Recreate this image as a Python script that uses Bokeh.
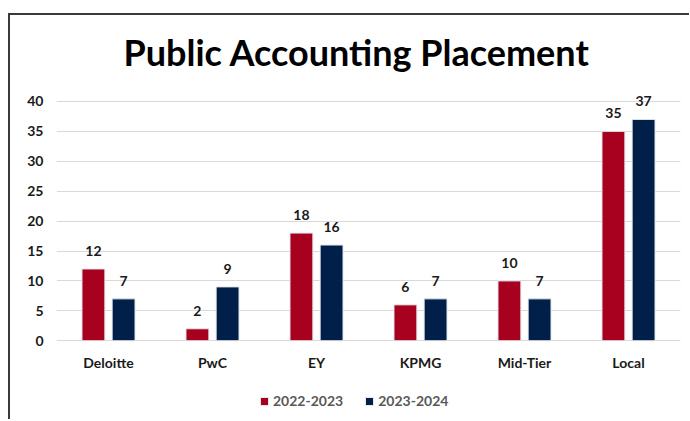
from bokeh.plotting import figure
from bokeh.models import ColumnDataSource, FactorRange, Legend, LegendItem, FixedTicker
from bokeh.transform import dodge
from bokeh.core.properties import value
from bokeh.embed import file_html
from bokeh.resources import INLINE

categories = ["Deloitte", "PwC", "EY", "KPMG", "Mid-Tier", "Local"]
series_names = ["2022-2023", "2023-2024"]
values_2022 = [12, 2, 18, 6, 10, 35]
values_2023 = [7, 9, 16, 7, 7, 37]
y_ticks = [0, 5, 10, 15, 20, 25, 30, 35, 40]

RED = "#A8001F"
NAVY = "#00204A"
FONT = "Lato"

src = ColumnDataSource(dict(cat=categories, a=values_2022, b=values_2023,
                            la=[str(v) for v in values_2022],
                            lb=[str(v) for v in values_2023],
                            zero=[0] * len(categories)))

p = figure(x_range=FactorRange(*categories, range_padding=0), y_range=(-13.5, 42.5),
           width=681, height=406, output_backend="svg", toolbar_location=None,
           x_axis_location=None, title="Public Accounting Placement",
           min_border_left=46, min_border_right=11, min_border_top=71, min_border_bottom=0)
p.styles = {"border-top": "2px solid #3a3a3a", "border-left": "2px solid #3a3a3a",
            "margin-left": "8px", "margin-top": "13px"}

r1 = p.vbar(x=dodge("cat", -0.145, range=p.x_range), top="a", width=0.22, source=src,
            fill_color=RED, line_color="#e6e9ee", line_width=1)
r2 = p.vbar(x=dodge("cat", 0.145, range=p.x_range), top="b", width=0.22, source=src,
            fill_color=NAVY, line_color="#e6e9ee", line_width=1)

p.text(x=dodge("cat", -0.145, range=p.x_range), y="a", text="la", source=src,
       text_align="center", text_baseline="bottom", y_offset=-13,
       text_font=value(FONT), text_font_style="bold", text_font_size="14px", text_color="#1a1a1a")
p.text(x=dodge("cat", 0.145, range=p.x_range), y="b", text="lb", source=src,
       text_align="center", text_baseline="bottom", y_offset=-13,
       text_font=value(FONT), text_font_style="bold", text_font_size="14px", text_color="#1a1a1a")

# category labels under the bars
p.text(x="cat", y="zero", text="cat", source=src,
       text_align="center", text_baseline="middle", y_offset=22,
       text_font=value(FONT), text_font_style="bold", text_font_size="14px", text_color="#1a1a1a")

p.title.align = "left"
p.title.offset = 67
p.title.standoff = 25
p.title.text_font = FONT
p.title.text_font_style = "bold"
p.title.text_font_size = "36px"
p.title.text_color = "#000000"

p.outline_line_color = None
p.xgrid.grid_line_color = None
p.ygrid.grid_line_color = "#d9d9d9"
p.ygrid.grid_line_width = 1
p.yaxis.ticker = FixedTicker(ticks=y_ticks)
p.yaxis.axis_line_color = None
p.yaxis.major_tick_line_color = None
p.yaxis.minor_tick_line_color = None
p.yaxis.major_label_text_font = FONT
p.yaxis.major_label_text_font_style = "bold"
p.yaxis.major_label_text_font_size = "14px"
p.yaxis.major_label_text_color = "#1a1a1a"
p.yaxis.major_label_standoff = 7

legend = Legend(items=[LegendItem(label=series_names[0], renderers=[r1]),
                       LegendItem(label=series_names[1], renderers=[r2])],
                orientation="horizontal", location=(203, 12),
                label_text_font=FONT, label_text_font_style="bold",
                label_text_font_size="14px", label_text_color="#595959",
                label_height=14, glyph_width=10, glyph_height=10, spacing=21, label_standoff=4,
                border_line_color=None, background_fill_alpha=0, padding=4, margin=0)
p.add_layout(legend)

open("out.html", "w").write(file_html(p, INLINE))
